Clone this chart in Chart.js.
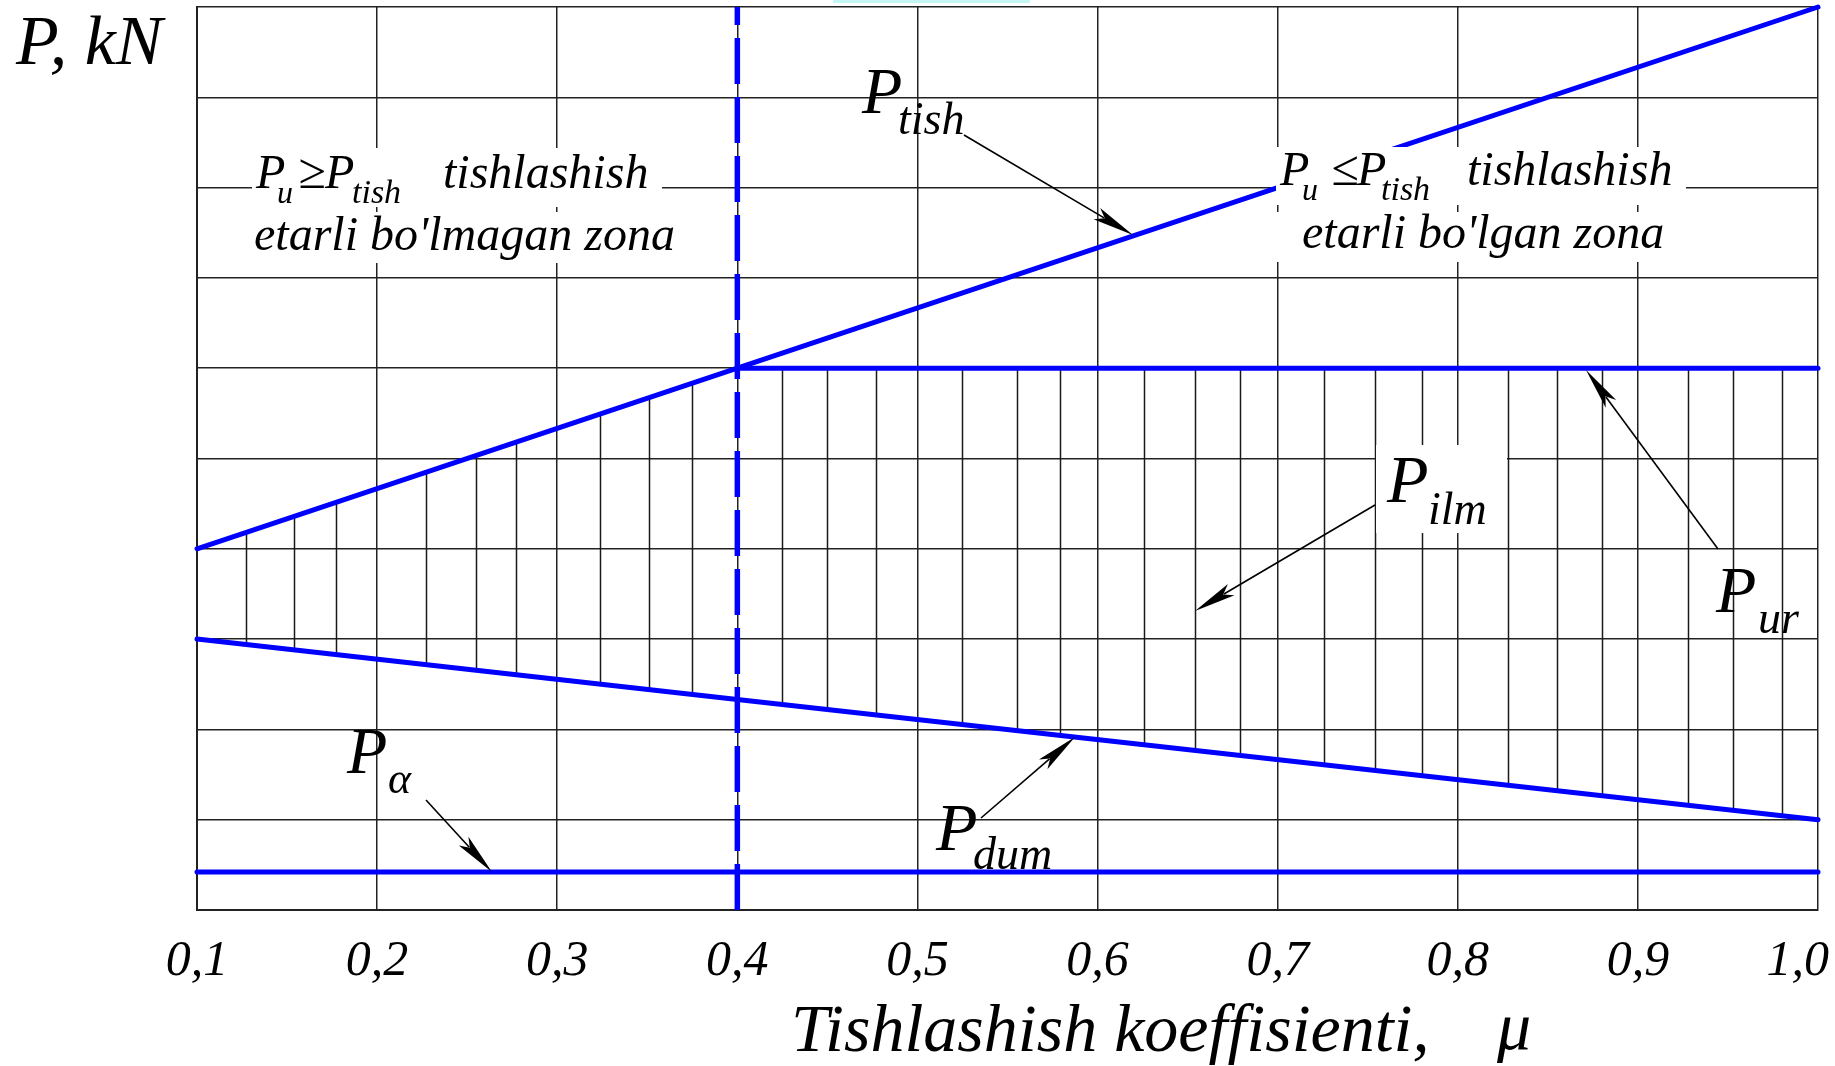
<!DOCTYPE html>
<html><head><meta charset="utf-8">
<script src="https://cdn.jsdelivr.net/npm/chart.js@4.4.1/dist/chart.umd.min.js"></script>
<style>html,body{margin:0;padding:0;background:#fff;overflow:hidden}canvas{display:block}</style>
</head><body>
<canvas id="c" width="1835" height="1066"></canvas>
<script>
// ---- data ----
const xTickValues = [0.1, 0.2, 0.3, 0.4, 0.5, 0.6, 0.7, 0.8, 0.9, 1.0];
const xTickLabels = ['0,1','0,2','0,3','0,4','0,5','0,6','0,7','0,8','0,9','1,0'];
const pTishMu = [0.1, 0.4, 0.7, 1.0];
const pTishVal = [4, 6, 8, 10];
const pUrMu = [0.4, 1.0];
const pUrVal = [6, 6];
const pDumMu = [0.1, 0.4, 1.0];
const pDumVal = [3, 2.33, 1];
const pAlphaMu = [0.1, 1.0];
const pAlphaVal = [0.42, 0.42];
const boundaryMu = [0.4, 0.4];
const boundaryVal = [0, 10];
const hatchMu = [0.127, 0.154, 0.177, 0.227, 0.255, 0.277, 0.324, 0.351, 0.375,
  0.425, 0.450, 0.477, 0.525, 0.555, 0.579, 0.626, 0.654, 0.679, 0.726, 0.754, 0.780,
  0.828, 0.855, 0.880, 0.928, 0.953, 0.980];
const yAxisLabel = 'P, kN';
const xAxisTitle = 'Tishlashish koeffisienti,';
const xAxisSymbol = 'μ';

const pts = (xs, ys) => xs.map((x, i) => ({x, y: ys[i]}));
const BLUE = '#0000ff';
const FAM = '"Liberation Serif", "Times New Roman", serif';

function txt(ctx, s, x, y, size, align) {
  ctx.font = 'italic ' + size + 'px ' + FAM;
  ctx.fillStyle = '#000';
  ctx.textAlign = align || 'left';
  ctx.textBaseline = 'alphabetic';
  ctx.fillText(s, x, y);
}
function arrow(ctx, x1, y1, x2, y2) {
  const a = Math.atan2(y2 - y1, x2 - x1), L = 42, W = 6.5;
  ctx.save();
  ctx.strokeStyle = '#000'; ctx.fillStyle = '#000'; ctx.lineWidth = 1.6;
  ctx.beginPath(); ctx.moveTo(x1, y1);
  ctx.lineTo(x2 - Math.cos(a) * L * 0.8, y2 - Math.sin(a) * L * 0.8); ctx.stroke();
  const bx = x2 - Math.cos(a) * L, by = y2 - Math.sin(a) * L;
  ctx.beginPath(); ctx.moveTo(x2, y2);
  ctx.lineTo(bx + Math.sin(a) * W, by - Math.cos(a) * W);
  ctx.lineTo(x2 - Math.cos(a) * L * 0.78, y2 - Math.sin(a) * L * 0.78);
  ctx.lineTo(bx - Math.sin(a) * W, by + Math.cos(a) * W);
  ctx.closePath(); ctx.fill();
  ctx.restore();
}

const hatchPlugin = {
  id: 'hatch',
  beforeDatasetsDraw(chart) {
    const ctx = chart.ctx, xs = chart.scales.x, area = chart.chartArea;
    const tish = chart.getDatasetMeta(0).data, ur = chart.getDatasetMeta(1).data, dum = chart.getDatasetMeta(2).data;
    ctx.save();
    ctx.beginPath();
    ctx.moveTo(tish[0].x, tish[0].y);
    ctx.lineTo(tish[1].x, tish[1].y);
    ctx.lineTo(ur[1].x, ur[1].y);
    for (let i = dum.length - 1; i >= 0; i--) ctx.lineTo(dum[i].x, dum[i].y);
    ctx.closePath();
    ctx.clip();
    ctx.strokeStyle = '#1a1a1a'; ctx.lineWidth = 1.5;
    hatchMu.forEach(m => {
      const x = Math.round(xs.getPixelForValue(m)) + 0.5;
      ctx.beginPath(); ctx.moveTo(x, area.top); ctx.lineTo(x, area.bottom); ctx.stroke();
    });
    ctx.restore();
  },
  afterDatasetsDraw(chart) {
    const ctx = chart.ctx, xs = chart.scales.x;
    ctx.save();
    // white label backgrounds
    ctx.fillStyle = '#fff';
    ctx.fillRect(252, 148, 410, 59);
    ctx.fillRect(252, 212, 410, 51);
    ctx.fillRect(1276, 147, 410, 58);
    ctx.fillRect(1276, 212, 410, 50);
    ctx.fillRect(1376, 445, 131, 88);
    // scan artifact strip at top
    ctx.fillStyle = '#c4f6f6';
    ctx.fillRect(833, 0, 197, 3);

    // zone label left
    txt(ctx, 'P', 256, 188, 48); txt(ctx, 'u', 277, 203, 32);
    txt(ctx, '≥', 298, 188, 50);
    txt(ctx, 'P', 325, 188, 48); txt(ctx, 'tish', 352, 203, 34);
    txt(ctx, 'tishlashish', 443, 188, 48);
    txt(ctx, "etarli bo'lmagan zona", 254, 250, 48);
    // zone label right
    txt(ctx, 'P', 1280, 185, 48); txt(ctx, 'u', 1302, 200, 32);
    txt(ctx, '≤', 1331, 185, 50);
    txt(ctx, 'P', 1357, 185, 48); txt(ctx, 'tish', 1381, 200, 34);
    txt(ctx, 'tishlashish', 1467, 185, 48);
    txt(ctx, "etarli bo'lgan zona", 1302, 248, 48);

    // curve labels
    txt(ctx, 'P', 862, 113, 66); txt(ctx, 'tish', 898, 134, 46);
    arrow(ctx, 964, 135, 1133, 235);
    txt(ctx, 'P', 1387, 502, 68); txt(ctx, 'ilm', 1428, 524, 46);
    arrow(ctx, 1375, 505, 1195, 611);
    txt(ctx, 'P', 1716, 612, 66); txt(ctx, 'ur', 1758, 633, 46);
    arrow(ctx, 1718, 549, 1586, 370);
    txt(ctx, 'P', 936, 850, 68); txt(ctx, 'dum', 973, 869, 46);
    arrow(ctx, 981, 818, 1075, 737);
    txt(ctx, 'P', 347, 773, 66); txt(ctx, 'α', 388, 793, 44);
    arrow(ctx, 426, 800, 492, 872);

    // x tick labels from the scale's own ticks (kept inside the canvas)
    ctx.font = 'italic 50px ' + FAM;
    xs.ticks.forEach((t, i) => {
      const s = xTickLabels[i];
      const w = ctx.measureText(s).width;
      let cx = xs.getPixelForTick(i);
      cx = Math.min(cx, chart.width - 6 - w / 2);
      txt(ctx, s, cx, 975, 50, 'center');
    });

    // axis labels
    txt(ctx, yAxisLabel, 16, 64, 70);
    txt(ctx, xAxisTitle, 791, 1051, 68);
    txt(ctx, xAxisSymbol, 1497, 1049, 68);
    ctx.restore();
  }
};

const lineDs = (label, xs, ys, extra) => Object.assign({
  label, data: pts(xs, ys), borderColor: BLUE, borderWidth: 5,
  pointRadius: 0, fill: false, tension: 0, clip: false, borderCapStyle: 'round'
}, extra || {});

new Chart(document.getElementById('c'), {
  type: 'line',
  data: {
    datasets: [
      lineDs('P_tish', pTishMu, pTishVal),
      lineDs('P_ur', pUrMu, pUrVal),
      lineDs('P_dum', pDumMu, pDumVal),
      lineDs('P_alpha', pAlphaMu, pAlphaVal),
      lineDs('boundary', boundaryMu, boundaryVal, {borderDash: [46, 13], borderWidth: 5.5, borderCapStyle: 'butt'})
    ]
  },
  options: {
    responsive: false, animation: false, devicePixelRatio: 1,
    layout: {padding: {left: 0, top: 7, right: 17, bottom: 0}},
    plugins: {legend: {display: false}, tooltip: {enabled: false}},
    scales: {
      x: {
        type: 'linear', min: 0.1, max: 1.0,
        afterBuildTicks: s => { s.ticks = xTickValues.map(v => ({value: v})); },
        ticks: {display: false, stepSize: 0.1},
        grid: {color: '#222', lineWidth: 1.5, drawTicks: false},
        border: {color: '#222', width: 2},
        afterFit: s => { s.height = 1066 - 910; s.paddingLeft = 0; s.paddingRight = 0; }
      },
      y: {
        type: 'linear', min: 0, max: 10,
        ticks: {display: false, stepSize: 1},
        grid: {color: '#222', lineWidth: 1.5, drawTicks: false},
        border: {color: '#222', width: 2},
        afterFit: s => { s.width = 197; }
      }
    }
  },
  plugins: [hatchPlugin]
});
</script>
</body></html>
